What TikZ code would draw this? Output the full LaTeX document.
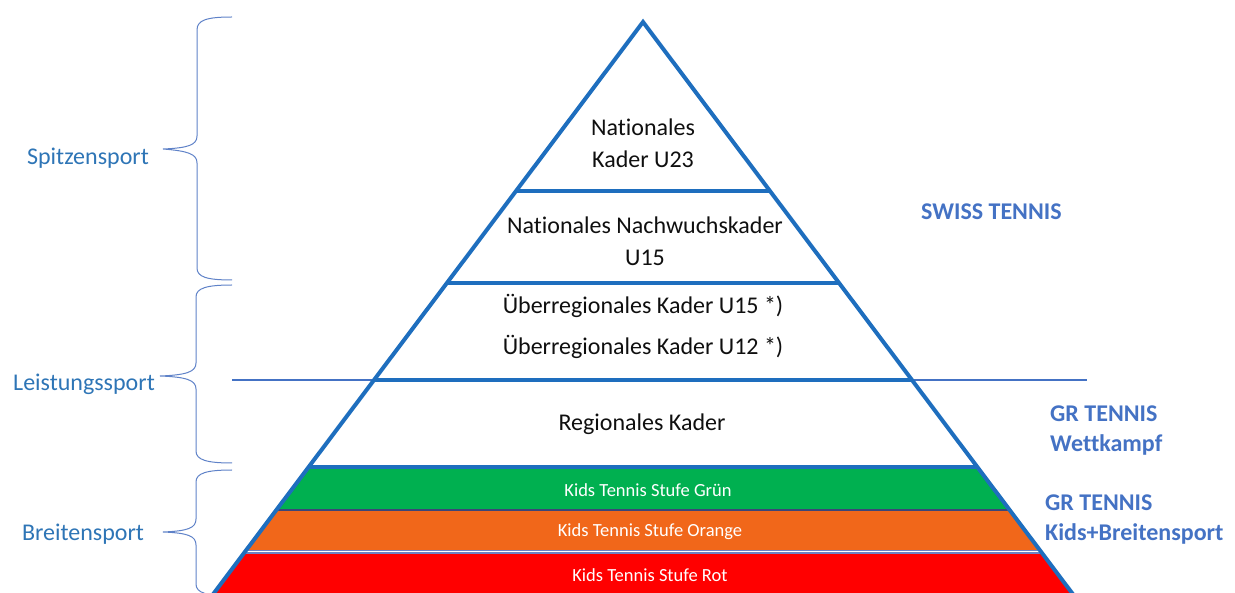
\documentclass[tikz,border=0pt]{standalone}
\usepackage{fontspec}
\setmainfont{Carlito}[Ligatures=NoCommon]
\usetikzlibrary{calc}
\definecolor{pyr}{RGB}{30,110,190}
\definecolor{lbl}{RGB}{46,117,182}
\definecolor{rlbl}{RGB}{68,114,196}
\definecolor{brc}{RGB}{95,130,200}
\definecolor{kgreen}{RGB}{0,176,80}
\definecolor{korange}{RGB}{241,103,26}
\definecolor{kred}{RGB}{255,0,0}
\definecolor{txt}{RGB}{15,15,15}
\begin{document}
\begin{tikzpicture}[x=1pt,y=-1pt,
  pyrline/.style={draw=pyr,line width=4pt},
  thinline/.style={draw=rlbl,line width=1.2pt},
  curlyb/.style={draw=brc,line width=1pt},
  lefttext/.style={text=lbl,font=\fontsize{24}{29}\selectfont,inner sep=0pt},
  righttext/.style={text=rlbl,font=\bfseries\fontsize{24}{30}\selectfont,align=left,anchor=west,inner sep=0pt},
  pyrtext/.style={text=txt,font=\fontsize{24}{32}\selectfont,align=center,inner sep=0pt},
  kidstext/.style={text=white,font=\fontsize{18.5}{22}\selectfont,inner sep=0pt}]
\useasboundingbox (0,0) rectangle (1235,593);
\clip (0,0) rectangle (1235,593);
% pyramid corners
\coordinate (apex) at (643,22);
\coordinate (bl) at (214,593);
\coordinate (br) at (1072,593);
\coordinate (bl2) at ($(apex)!1.03!(bl)$);
\coordinate (br2) at ($(apex)!1.03!(br)$);
% band levels
\coordinate (l1) at ($(apex)!0.296!(bl)$); \coordinate (r1) at ($(apex)!0.296!(br)$);
\coordinate (l2) at ($(apex)!0.457!(bl)$); \coordinate (r2) at ($(apex)!0.457!(br)$);
\coordinate (l3) at ($(apex)!0.627!(bl)$); \coordinate (r3) at ($(apex)!0.627!(br)$);
\coordinate (l4) at ($(apex)!0.779!(bl)$); \coordinate (r4) at ($(apex)!0.779!(br)$);
\coordinate (l5) at ($(apex)!0.855!(bl)$); \coordinate (r5) at ($(apex)!0.855!(br)$);
\coordinate (l6) at ($(apex)!0.928!(bl)$); \coordinate (r6) at ($(apex)!0.928!(br)$);
% coloured bands
\fill[kgreen] (l4) -- (r4) -- (r5) -- (l5) -- cycle;
\fill[korange] (l5) -- (r5) -- (r6) -- (l6) -- cycle;
\fill[kred] (l6) -- (r6) -- (br2) -- (bl2) -- cycle;
\draw[draw={rgb,255:red,60;green,70;blue,120},line width=1.5pt] (l5) -- (r5);
\draw[draw={rgb,255:red,110;green,130;blue,195},line width=1.2pt,double=white,double distance=1pt] (l6) -- (r6);
% thin horizontal line
\coordinate (hl) at (232,380);
\coordinate (hr) at (1087,380);
\draw[thinline] (hl) -- (hr);
% pyramid outline and band lines
\draw[pyrline,line join=miter] (bl2) -- (apex) -- (br2);
\draw[pyrline] (l1) -- (r1);
\draw[pyrline] (l2) -- (r2);
\draw[pyrline] (l3) -- (r3);
\draw[pyrline] (l4) -- (r4);
% pyramid texts
\node[pyrtext] (t1) at (643,143) {Nationales\\Kader U23};
\node[pyrtext] (t2) at (645,241) {Nationales Nachwuchskader\\U15};
\node[pyrtext] (t3) at (643,306) {Überregionales Kader U15 *)};
\node[pyrtext] (t4) at (643,347) {Überregionales Kader U12 *)};
\node[pyrtext] (t5) at (642,424) {Regionales Kader};
\node[kidstext] (k1) at (648,490) {Kids Tennis Stufe Grün};
\node[kidstext] (k2) at (650,532) {Kids Tennis Stufe Orange};
\node[kidstext] (k3) at (650,575) {Kids Tennis Stufe Rot};
% right labels
\node[righttext] (s1) at (921,212) {SWISS TENNIS};
\node[righttext] (s2) at (1050,431) {GR TENNIS\\Wettkampf};
\node[righttext] (s3) at (1045,520) {GR TENNIS\\Kids+Breitensport};
% left labels
\node[lefttext] (a1) at (88,158) {Spitzensport};
\node[lefttext] (a2) at (84,384) {Leistungssport};
\node[lefttext] (a3) at (83,534) {Breitensport};
% braces
\draw[curlyb] (232,17) .. controls (207,17) and (197,20) .. (197,30) -- (197,136)
  .. controls (197,145) and (188,148) .. (163,149) .. controls (188,151) and (197,154) .. (197,163)
  -- (197,268) .. controls (197,277) and (207,280) .. (232,280);
\draw[curlyb] (232,285) .. controls (207,285) and (196,288) .. (196,297) -- (196,363)
  .. controls (196,372) and (186,375) .. (160,376) .. controls (186,377) and (196,380) .. (196,389)
  -- (196,451) .. controls (196,460) and (207,463) .. (232,463);
\draw[curlyb] (232,470) .. controls (207,470) and (196,473) .. (196,482) -- (196,519)
  .. controls (196,528) and (188,531) .. (163,532) .. controls (188,533) and (196,536) .. (196,545)
  -- (196,584) .. controls (196,593) and (207,596) .. (232,596);
\end{tikzpicture}
\end{document}
